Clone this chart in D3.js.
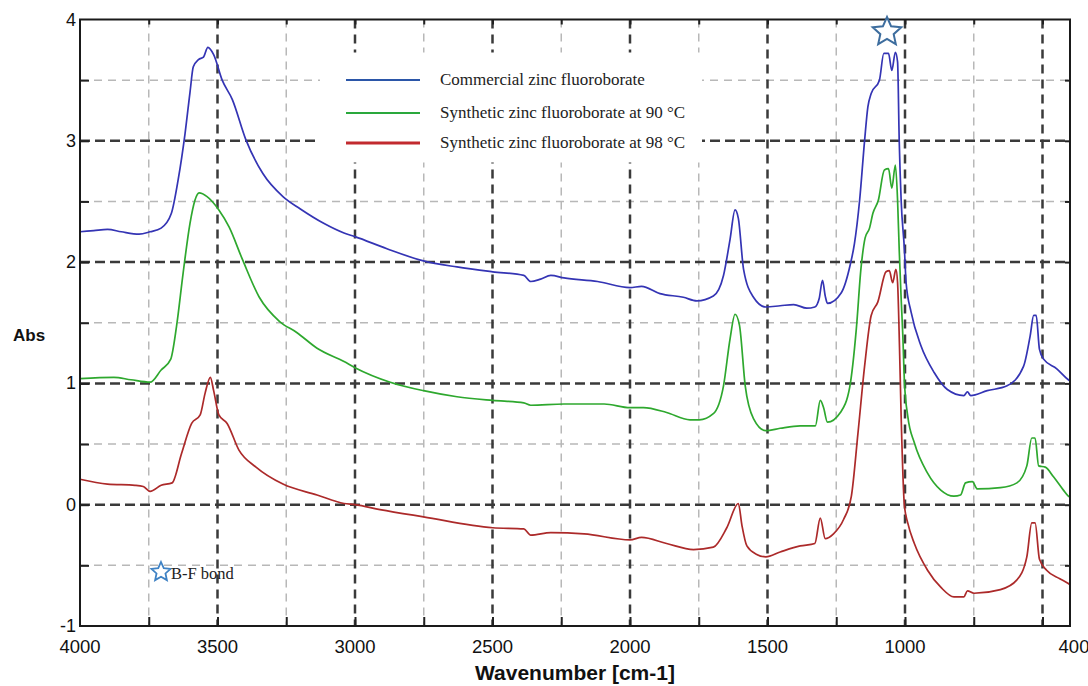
<!DOCTYPE html>
<html>
<head>
<meta charset="utf-8">
<script src="https://cdn.jsdelivr.net/npm/d3@7"></script>
<style>
  body { margin: 0; background: #fff; }
  svg { display: block; }
</style>
</head>
<body>
<div id="chart-area"></div>
<script>
// wavenumber / absorbance pairs
var commercial = [
  [4000,2.25],[3950,2.26],[3900,2.27],[3850,2.25],[3785,2.23],[3745,2.25],[3705,2.28],[3668,2.40],
  [3643,2.68],[3618,3.06],[3600,3.40],[3588,3.61],[3569,3.67],[3551,3.69],[3535,3.77],[3514,3.71],
  [3483,3.50],[3446,3.34],[3397,3.01],[3335,2.73],[3262,2.54],[3200,2.44],[3114,2.32],[3040,2.24],
  [3000,2.21],[2884,2.11],[2751,2.01],[2629,1.96],[2499,1.92],[2386,1.89],[2361,1.84],[2325,1.86],
  [2288,1.89],[2240,1.87],[2118,1.84],[2000,1.79],[1958,1.80],[1891,1.74],[1806,1.71],[1757,1.68],
  [1697,1.72],[1660,1.89],[1636,2.19],[1618,2.43],[1606,2.36],[1587,1.94],[1551,1.71],[1506,1.63],
  [1454,1.64],[1405,1.65],[1357,1.62],[1328,1.63],[1312,1.70],[1300,1.85],[1290,1.72],[1282,1.66],
  [1231,1.75],[1199,1.98],[1184,2.15],[1165,2.51],[1147,3.00],[1135,3.28],[1123,3.39],[1093,3.50],
  [1077,3.72],[1060,3.72],[1048,3.58],[1035,3.73],[1027,3.65],[1021,3.00],[1014,2.51],[1002,2.10],
  [996,1.83],[978,1.59],[942,1.31],[894,1.09],[846,0.95],[786,0.90],[773,0.93],[761,0.90],
  [701,0.94],[629,0.98],[569,1.14],[545,1.39],[532,1.56],[523,1.56],[511,1.28],[496,1.20],
  [448,1.12],[406,1.03],[400,1.02]
];
var synth90 = [
  [4000,1.04],[3877,1.05],[3815,1.03],[3745,1.01],[3705,1.11],[3670,1.20],[3649,1.47],[3625,1.91],
  [3600,2.32],[3582,2.51],[3567,2.57],[3538,2.54],[3495,2.43],[3458,2.29],[3409,2.02],[3348,1.71],
  [3274,1.51],[3212,1.42],[3138,1.29],[3040,1.18],[3000,1.13],[2872,1.01],[2751,0.94],[2629,0.89],
  [2499,0.86],[2386,0.84],[2361,0.82],[2240,0.83],[2094,0.83],[2000,0.80],[1951,0.80],[1867,0.76],
  [1782,0.70],[1748,0.70],[1697,0.75],[1660,0.98],[1636,1.37],[1618,1.57],[1602,1.48],[1581,0.98],
  [1551,0.71],[1506,0.61],[1454,0.63],[1381,0.65],[1326,0.65],[1308,0.86],[1296,0.80],[1282,0.68],
  [1235,0.76],[1201,0.97],[1177,1.45],[1160,1.95],[1145,2.20],[1129,2.28],[1117,2.40],[1097,2.51],
  [1075,2.76],[1060,2.77],[1048,2.61],[1035,2.80],[1027,2.51],[1021,2.10],[1014,1.70],[1008,1.40],
  [1002,1.01],[990,0.73],[966,0.51],[918,0.26],[870,0.12],[822,0.07],[798,0.08],[780,0.18],
  [755,0.19],[737,0.13],[653,0.14],[593,0.18],[557,0.32],[539,0.55],[527,0.55],[514,0.32],
  [490,0.31],[460,0.23],[424,0.12],[406,0.07],[400,0.06]
];
var synth98 = [
  [4000,0.21],[3900,0.17],[3800,0.16],[3770,0.15],[3745,0.11],[3705,0.16],[3665,0.18],[3631,0.42],
  [3594,0.67],[3563,0.74],[3545,0.92],[3526,1.05],[3514,0.94],[3495,0.74],[3465,0.67],[3422,0.45],
  [3360,0.31],[3262,0.17],[3138,0.08],[3040,0.01],[3000,0.00],[2909,-0.04],[2751,-0.10],[2499,-0.19],
  [2386,-0.20],[2361,-0.25],[2288,-0.23],[2167,-0.24],[2000,-0.29],[1958,-0.27],[1867,-0.32],[1769,-0.37],
  [1697,-0.35],[1648,-0.19],[1606,0.01],[1593,-0.17],[1575,-0.34],[1539,-0.41],[1506,-0.43],[1454,-0.39],
  [1381,-0.34],[1328,-0.32],[1308,-0.11],[1290,-0.28],[1260,-0.24],[1223,-0.12],[1195,0.07],[1171,0.59],
  [1147,1.14],[1123,1.56],[1099,1.67],[1069,1.92],[1057,1.93],[1045,1.83],[1033,1.94],[1027,1.83],
  [1020,1.30],[1014,0.73],[1002,-0.01],[990,-0.15],[966,-0.32],[918,-0.54],[870,-0.68],[822,-0.76],
  [786,-0.76],[773,-0.71],[749,-0.73],[653,-0.70],[593,-0.62],[557,-0.43],[539,-0.15],[527,-0.15],
  [511,-0.45],[485,-0.54],[437,-0.61],[406,-0.65],[400,-0.66]
];

var seriesNames = ["Commercial zinc fluoroborate", "Synthetic zinc fluoroborate at 90 \u00B0C", "Synthetic zinc fluoroborate at 98 \u00B0C"];
var xTickLabels = [4000, 3500, 3000, 2500, 2000, 1500, 1000, 400];
var xMajorGrid = [3500, 3000, 2500, 2000, 1500, 1000, 500];
var xMinorGrid = [3750, 3250, 2750, 2250, 1750, 1250, 750];
var yTickLabels = [4, 3, 2, 1, 0, -1];
var yMajorGrid = [3, 2, 1, 0];
var yMinorGrid = [3.5, 2.5, 1.5, 0.5, -0.5];

var width = 1088, height = 686;
var margin = { top: 19.5, right: 18, bottom: 60, left: 80 };
var plotW = width - margin.left - margin.right;
var plotH = height - margin.top - margin.bottom;

var svg = d3.select("#chart-area")
  .append("svg")
  .attr("width", width)
  .attr("height", height)
  .style("background", "#fff");

var g = svg.append("g")
  .attr("transform", "translate(" + margin.left + ", " + margin.top + ")");

var x = d3.scaleLinear().domain([4000, 400]).range([0, plotW]);
var y = d3.scaleLinear().domain([-1, 4]).range([plotH, 0]);

// grid
g.selectAll(".vminor").data(xMinorGrid).enter().append("line")
  .attr("x1", d => x(d)).attr("x2", d => x(d))
  .attr("y1", 0).attr("y2", plotH)
  .attr("stroke", "#b8b8b8").attr("stroke-width", 1.5)
  .attr("stroke-dasharray", "8,6");
g.selectAll(".hminor").data(yMinorGrid).enter().append("line")
  .attr("x1", 0).attr("x2", plotW)
  .attr("y1", d => y(d)).attr("y2", d => y(d))
  .attr("stroke", "#b8b8b8").attr("stroke-width", 1.5)
  .attr("stroke-dasharray", "8,6");
g.selectAll(".vmajor").data(xMajorGrid).enter().append("line")
  .attr("x1", d => x(d)).attr("x2", d => x(d))
  .attr("y1", 0).attr("y2", plotH)
  .attr("stroke", "#3a3a3a").attr("stroke-width", 2.5)
  .attr("stroke-dasharray", "9,6");
g.selectAll(".hmajor").data(yMajorGrid).enter().append("line")
  .attr("x1", 0).attr("x2", plotW)
  .attr("y1", d => y(d)).attr("y2", d => y(d))
  .attr("stroke", "#3a3a3a").attr("stroke-width", 2.5)
  .attr("stroke-dasharray", "10,5");

// legend backdrop hides the grid behind it
g.append("rect")
  .attr("x", 240).attr("y", 33)
  .attr("width", 382).attr("height", 110)
  .attr("fill", "#fff");

// spectra
var colors = ["#3434b4", "#2ea82e", "#ac2a2a"];
var line = d3.line()
  .x(d => x(d[0]))
  .y(d => y(d[1]))
  .curve(d3.curveMonotoneX);

[commercial, synth90, synth98].forEach((s, i) => {
  g.append("path")
    .datum(s)
    .attr("fill", "none")
    .attr("stroke", colors[i])
    .attr("stroke-width", 1.7)
    .attr("stroke-linejoin", "round")
    .attr("d", line);
});

// axes (ticks inward, box frame)
var allX = xMajorGrid.concat(xMinorGrid);
var allY = yMajorGrid.concat(yMinorGrid);
g.append("g")
  .attr("transform", "translate(0, " + plotH + ")")
  .call(d3.axisBottom(x).tickValues(allX).tickSizeInner(-9).tickSizeOuter(0).tickFormat(""))
  .call(a => a.selectAll("line").attr("stroke", "#222").attr("stroke-width", 2));
g.append("g")
  .call(d3.axisTop(x).tickValues(allX).tickSizeInner(-5).tickSizeOuter(0).tickFormat(""))
  .call(a => a.selectAll("line").attr("stroke", "#222").attr("stroke-width", 2));
g.append("g")
  .call(d3.axisLeft(y).tickValues(allY).tickSizeInner(-9).tickSizeOuter(0).tickFormat(""))
  .call(a => a.selectAll("line").attr("stroke", "#222").attr("stroke-width", 2));
g.append("g")
  .attr("transform", "translate(" + plotW + ", 0)")
  .call(d3.axisRight(y).tickValues(allY).tickSizeInner(-5).tickSizeOuter(0).tickFormat(""))
  .call(a => a.selectAll("line").attr("stroke", "#222").attr("stroke-width", 2));
g.selectAll(".domain").remove();

g.append("rect")
  .attr("x", 0).attr("y", 0)
  .attr("width", plotW).attr("height", plotH)
  .attr("fill", "none")
  .attr("stroke", "#1a1a1a")
  .attr("stroke-width", 2);

// tick labels
g.selectAll(".xlab").data(xTickLabels).enter().append("text")
  .attr("x", d => x(d) + (d === 400 ? 4 : 0))
  .attr("y", plotH + 27)
  .attr("text-anchor", "middle")
  .attr("font-family", "Arial, 'Liberation Sans', sans-serif")
  .attr("font-size", "18.5px")
  .attr("fill", "#111")
  .text(d => d);

g.selectAll(".ylab").data(yTickLabels).enter().append("text")
  .attr("x", -4)
  .attr("y", d => y(d) + 6)
  .attr("text-anchor", "end")
  .attr("font-family", "Arial, 'Liberation Sans', sans-serif")
  .attr("font-size", "18px")
  .attr("fill", "#111")
  .text(d => d);

svg.append("text")
  .attr("x", 575)
  .attr("y", 680)
  .attr("text-anchor", "middle")
  .attr("font-family", "Arial, 'Liberation Sans', sans-serif")
  .attr("font-weight", "bold")
  .attr("font-size", "21px")
  .attr("fill", "#111")
  .text("Wavenumber [cm-1]");

svg.append("text")
  .attr("x", 13)
  .attr("y", 341)
  .attr("font-family", "Arial, 'Liberation Sans', sans-serif")
  .attr("font-weight", "bold")
  .attr("font-size", "17px")
  .attr("fill", "#111")
  .text("Abs");

// legend
var legendColors = ["#2b56a8", "#2aa83c", "#c22a2e"];
var legendY = [80, 113, 143];
seriesNames.forEach((name, i) => {
  svg.append("line")
    .attr("x1", 346).attr("x2", 420)
    .attr("y1", legendY[i]).attr("y2", legendY[i])
    .attr("stroke", legendColors[i])
    .attr("stroke-width", i === 2 ? 3 : 2);
  svg.append("text")
    .attr("x", 440)
    .attr("y", legendY[i] + 5)
    .attr("font-family", "'Liberation Serif', 'Times New Roman', serif")
    .attr("font-size", "17px")
    .attr("fill", "#222")
    .text(name);
});

// star markers
function starPath(cx, cy, r1, r2) {
  var pts = d3.range(10).map(i => {
    var a = -Math.PI / 2 + i * Math.PI / 5;
    var r = i % 2 === 0 ? r1 : r2;
    return [cx + r * Math.cos(a), cy + r * Math.sin(a)];
  });
  return "M" + pts.join("L") + "Z";
}

svg.append("path")
  .attr("d", starPath(887, 32, 15, 7))
  .attr("fill", "#fff")
  .attr("stroke", "#3d6d9e")
  .attr("stroke-width", 2);

svg.append("path")
  .attr("d", starPath(161, 572, 10, 4.7))
  .attr("fill", "#fff")
  .attr("stroke", "#3f82c4")
  .attr("stroke-width", 1.8);

svg.append("text")
  .attr("x", 171)
  .attr("y", 579)
  .attr("font-family", "'Liberation Serif', 'Times New Roman', serif")
  .attr("font-size", "16.5px")
  .attr("fill", "#222")
  .text("B-F bond");
</script>
</body>
</html>
